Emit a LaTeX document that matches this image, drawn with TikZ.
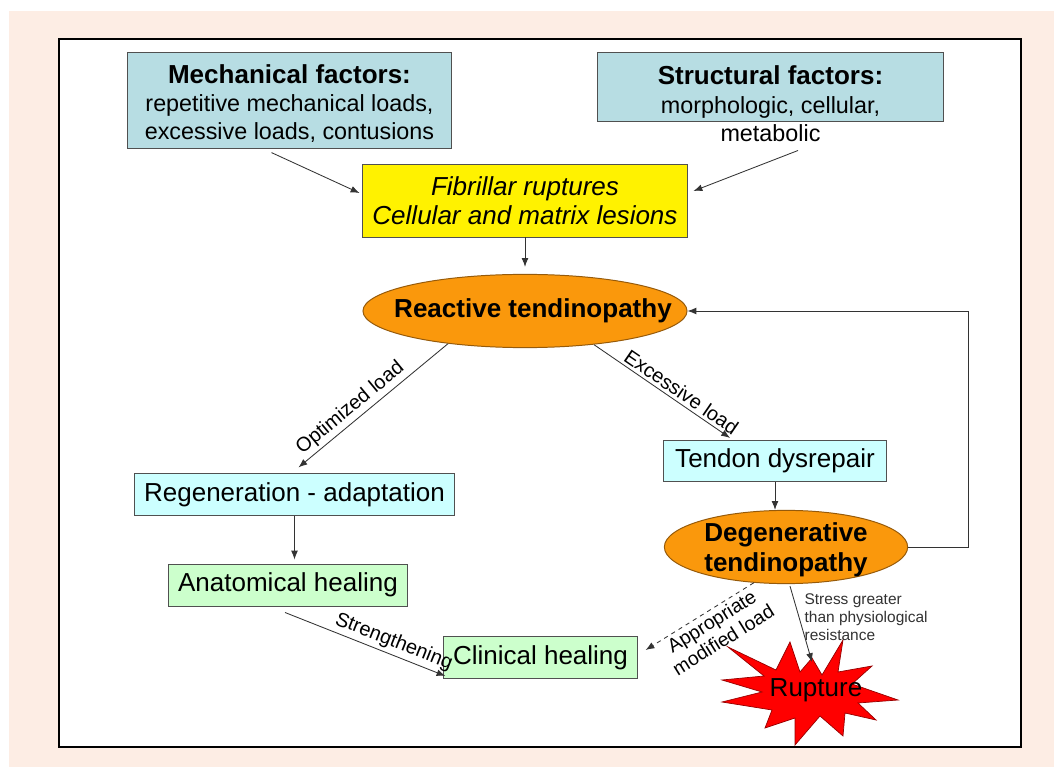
\documentclass[tikz,border=0pt]{standalone}
\usepackage{fontspec}
\setmainfont{Liberation Sans}
\usetikzlibrary{shapes.geometric,arrows.meta,calc}

\definecolor{peach}{RGB}{253,237,228}
\definecolor{factfill}{RGB}{183,221,227}
\definecolor{cyanfill}{RGB}{204,255,255}
\definecolor{greenfill}{RGB}{204,255,204}
\definecolor{orangefill}{RGB}{250,152,12}
\definecolor{orangeline}{RGB}{150,90,10}
\definecolor{rupline}{RGB}{150,0,0}
\definecolor{boxline}{RGB}{80,80,80}

\tikzset{
  box/.style={draw=boxline, line width=0.7pt, inner sep=0pt, align=center,
    font=\fontsize{18.5}{21}\selectfont},
  factbox/.style={box, fill=factfill},
  repbox/.style={box, fill=cyanfill, minimum height=1.03cm},
  healbox/.style={box, fill=greenfill, minimum height=1.05cm},
  tendo/.style={ellipse, draw=orangeline, line width=0.7pt, fill=orangefill,
    inner sep=0pt, minimum height=1.83cm},
  tendotxt/.style={align=center, inner sep=0pt,
    font=\fontsize{18.5}{22}\selectfont\bfseries},
  arr/.style={draw=black!80, line width=0.6pt, -{Latex[length=2.2mm,width=1.7mm]}},
  lbl/.style={sloped, inner sep=2pt, font=\fontsize{14.2}{16}\selectfont},
}

\begin{document}
\begin{tikzpicture}[x=0.025cm, y=-0.025cm]
  % Fond et cadre
  \useasboundingbox (0,0) rectangle (1054,767);
  \fill[peach] (9,11) rectangle (1054,767);
  \draw[line width=1.4pt, fill=white] (59,39) rectangle (1021,747);

  % Facteurs
  \node[factbox, minimum width=8.08cm, minimum height=2.38cm] (mech) at (289.5,100.5) {};
  \node[align=center, inner sep=0pt, font=\fontsize{16.6}{19.8}\selectfont]
    (mechtxt) at (289.5,103.5)
    {{\fontsize{18.5}{20}\selectfont\bfseries Mechanical factors:}\\
     repetitive mechanical loads,\\ excessive loads, contusions};
  \node[factbox, minimum width=8.63cm, minimum height=1.7cm] (struct) at (770.5,87) {};
  \node[align=center, inner sep=0pt, font=\fontsize{16.6}{20.3}\selectfont]
    (structtxt) at (770.5,104)
    {{\fontsize{18.5}{20}\selectfont\bfseries Structural factors:}\\
     morphologic, cellular,\\ metabolic};

  % Lésions
  \node[box, fill=yellow, minimum width=8.1cm, minimum height=1.8cm,
    font=\fontsize{18.5}{20.6}\selectfont\itshape] (fib) at (525,201)
    {Fibrillar ruptures\\ Cellular and matrix lesions};

  % Tendinopathies
  \node[tendo, minimum width=8.1cm,
    label={[tendotxt, xshift=0.2cm]center:Reactive tendinopathy}] (react) at (525,311) {};
  \node[tendo, minimum width=6.08cm,
    label={[tendotxt, yshift=-0.07cm]center:{Degenerative\\tendinopathy}}] (degen) at (786,547) {};

  % Boîtes de réparation
  \node[repbox, minimum width=5.55cm] (tend) at (775,461) {Tendon dysrepair};
  \node[repbox, minimum width=8.0cm] (regen) at (294.5,494.5) {Regeneration - adaptation};
  \node[healbox, minimum width=5.95cm] (anat) at (288,585) {Anatomical healing};
  \node[healbox, minimum width=4.83cm] (clin) at (540.5,657.5) {Clinical healing};

  % Rupture
  \draw[fill=red, draw=rupline, line width=0.5pt]
    (812,658) -- (822,675) -- (843,640) -- (838,672) -- (872,666) -- (852,684)
    -- (898,700) -- (858,703) -- (876,720) -- (845,713) -- (843,736) -- (820,716)
    -- (795,745) -- (795,718) -- (765,728) -- (772,710) -- (722,702) -- (762,692)
    -- (722,680) -- (764,676) -- (728,647) -- (776,670) -- (790,642) -- (800,672)
    -- cycle;
  \node[inner sep=0pt, font=\fontsize{18.5}{20}\selectfont] (rup) at (816,690) {Rupture};

  % Flèches
  \draw[arr] ($(mech.south)+(-18,4)$) -- ($(fib.west)+(-3,-8)$);
  \draw[arr] ($(struct.south)+(27.5,29)$) -- ($(fib.east)+(6,-10)$);
  \draw[arr] (fib.south) -- ($(react.north)+(0,-7)$);
  \draw[arr] (react.203) -- node[lbl, above, pos=0.6] {Optimized load}
    ($(regen.north)+(4,-6)$);
  \draw[arr] (react.334) -- node[lbl, above, pos=0.6] {Excessive load}
    ($(tend.north)+(-45,-2)$);
  \draw[arr] (tend.south) -- (tend.south |- degen.north);
  \draw[arr] (degen.east) -- ++(60,0) |- (react.east);
  \draw[arr] (regen.south) -- ($(regen.south |- anat.north)+(0,-4)$);
  \draw[arr] ($(anat.south)+(-3,6)$) -- node[lbl, above, pos=0.65] {Strengthening}
    ($(clin.south west)+(2,-3)$);
  \draw[arr, dashed] (degen.228) -- node[lbl, below, pos=0.44, align=center,
    font=\fontsize{13.8}{15.5}\selectfont] {Appropriate\\modified load}
    ($(clin.east)+(8,-7.5)$);
  \draw[arr] ($(degen.south)+(4,2)$) -- node[pos=0.1, anchor=north west,
    xshift=0.3cm, inner sep=0pt, align=left, text=black!80,
    font=\fontsize{11}{12.8}\selectfont]
    {Stress greater\\than physiological\\resistance} ($(rup)+(-4,-28)$);
\end{tikzpicture}
\end{document}
